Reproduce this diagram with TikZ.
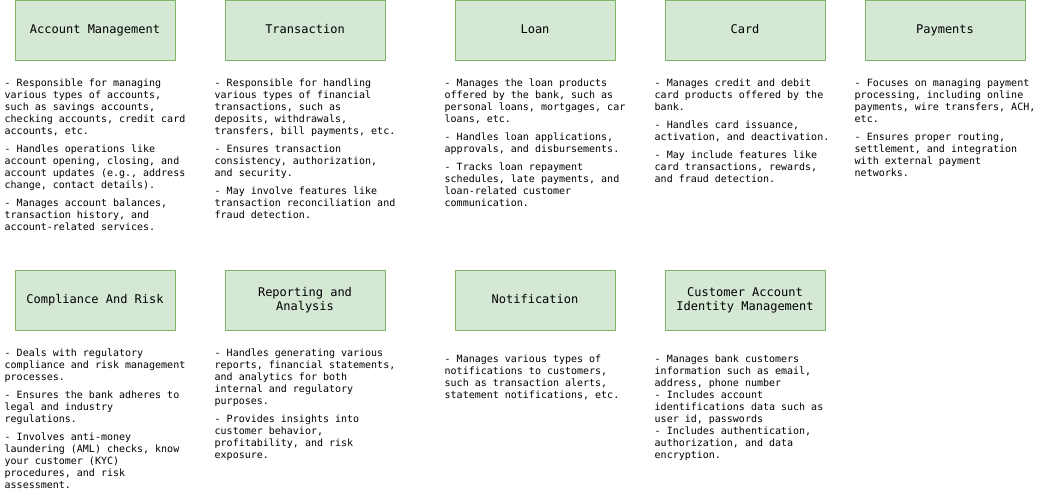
\documentclass[tikz,border=0pt]{standalone}
\usepackage{fontspec}
\setmonofont{DejaVu Sans Mono}
\usetikzlibrary{positioning}
\definecolor{modfill}{HTML}{D5E8D4}
\definecolor{modline}{HTML}{82B366}
\newcommand{\modstrut}{\rule[-2.5pt]{0pt}{11pt}}
\tikzset{%
  module/.style = {shape=rectangle, draw=modline, fill=modfill,%
                   line width=1pt, align=center,%
                   minimum width=160pt, minimum height=60pt,%
                   execute at begin node=\modstrut, execute at end node=\modstrut,%
                   font=\ttfamily\fontsize{12}{14}\selectfont},%
  notes/.style  = {inner sep=0pt, align=left,%
                   font=\ttfamily\fontsize{10}{12}\selectfont}%
}

\begin{document}
\begin{tikzpicture}
	\useasboundingbox (0,0) rectangle (1040pt,-501pt);
	% top row
	\node [module] (acct) at (95pt,-30pt) {Account Management};
	\node [module] (trans) at (305pt,-30pt) {Transaction};
	\node [module] (loan) at (535pt,-30pt) {Loan};
	\node [module] (card) at (745pt,-30pt) {Card};
	\node [module] (pay) at (945pt,-30pt) {Payments};
	% bottom row
	\node [module] (risk) at (95pt,-300pt) {Compliance And Risk};
	\node [module] (report) at (305pt,-300pt) {Reporting and\\Analysis};
	\node [module] (notify) at (535pt,-300pt) {Notification};
	\node [module] (ident) at (745pt,-300pt) {Customer Account\\Identity Management};
	% descriptions
	\node [notes, below=18pt of acct.south west, xshift=-10pt, anchor=north west] (acctnotes)
		{- Responsible for managing\\various types of accounts,\\such as savings accounts,\\checking accounts, credit card\\accounts, etc.\\[6pt]
		- Handles operations like\\account opening, closing, and\\account updates (e.g., address\\change, contact details).\\[6pt]
		- Manages account balances,\\transaction history, and\\account-related services.};
	\node [notes, below=18pt of trans.south west, xshift=-10pt, anchor=north west] (transnotes)
		{- Responsible for handling\\various types of financial\\transactions, such as\\deposits, withdrawals,\\transfers, bill payments, etc.\\[6pt]
		- Ensures transaction\\consistency, authorization,\\and security.\\[6pt]
		- May involve features like\\transaction reconciliation and\\fraud detection.};
	\node [notes, below=18pt of loan.south west, xshift=-10pt, anchor=north west] (loannotes)
		{- Manages the loan products\\offered by the bank, such as\\personal loans, mortgages, car\\loans, etc.\\[6pt]
		- Handles loan applications,\\approvals, and disbursements.\\[6pt]
		- Tracks loan repayment\\schedules, late payments, and\\loan-related customer\\communication.};
	\node [notes, below=18pt of card.south west, xshift=-10pt, anchor=north west] (cardnotes)
		{- Manages credit and debit\\card products offered by the\\bank.\\[6pt]
		- Handles card issuance,\\activation, and deactivation.\\[6pt]
		- May include features like\\card transactions, rewards,\\and fraud detection.};
	\node [notes, below=18pt of pay.south west, xshift=-10pt, anchor=north west] (paynotes)
		{- Focuses on managing payment\\processing, including online\\payments, wire transfers, ACH,\\etc.\\[6pt]
		- Ensures proper routing,\\settlement, and integration\\with external payment\\networks.};
	\node [notes, below=18pt of risk.south west, xshift=-10pt, anchor=north west] (risknotes)
		{- Deals with regulatory\\compliance and risk management\\processes.\\[6pt]
		- Ensures the bank adheres to\\legal and industry\\regulations.\\[6pt]
		- Involves anti-money\\laundering (AML) checks, know\\your customer (KYC)\\procedures, and risk\\assessment.};
	\node [notes, below=18pt of report.south west, xshift=-10pt, anchor=north west] (reportnotes)
		{- Handles generating various\\reports, financial statements,\\and analytics for both\\internal and regulatory\\purposes.\\[6pt]
		- Provides insights into\\customer behavior,\\profitability, and risk\\exposure.};
	\node [notes, below=24pt of notify.south west, xshift=-10pt, anchor=north west] (notifynotes)
		{- Manages various types of\\notifications to customers,\\such as transaction alerts,\\statement notifications, etc.};
	\node [notes, below=24pt of ident.south west, xshift=-10pt, anchor=north west] (identnotes)
		{- Manages bank customers\\information such as email,\\address, phone number\\- Includes account\\identifications data such as\\user id, passwords\\- Includes authentication,\\authorization, and data\\encryption.};
\end{tikzpicture}
\end{document}
